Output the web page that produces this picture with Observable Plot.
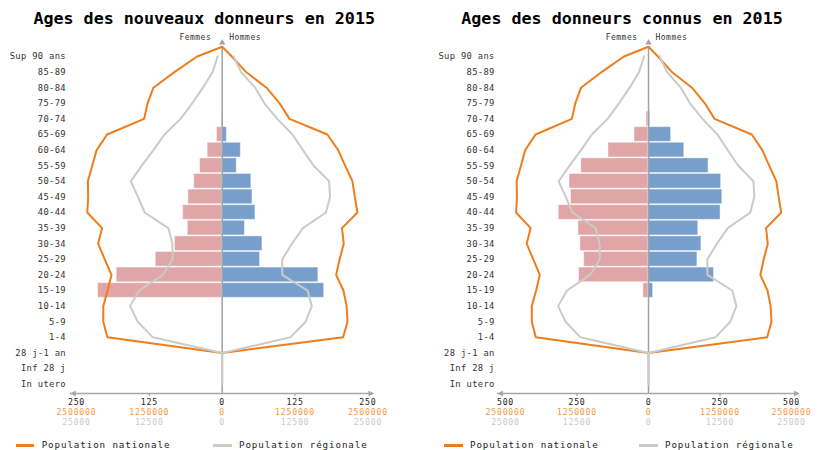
<!DOCTYPE html>
<html><head><meta charset="utf-8">
<script src="https://cdn.jsdelivr.net/npm/d3@7"></script>
<script src="https://cdn.jsdelivr.net/npm/@observablehq/plot@0.6"></script>
<style>
body{margin:0;background:#fff;}
#wrap{position:relative;width:822px;height:450px;overflow:hidden;font-family:"DejaVu Sans Mono",monospace;}
.chart{position:absolute;top:0;width:411px;height:450px;}
.title{position:absolute;top:7.5px;height:20px;line-height:20px;font-weight:bold;font-size:16.7px;white-space:nowrap;text-align:center;color:#000;}
.leg{position:absolute;top:439.5px;line-height:10px;font-size:9.2px;letter-spacing:0.9px;color:#222;white-space:nowrap;}
.sw{position:absolute;height:2.5px;top:444px;}
</style></head>
<body>
<div id="wrap">
  <div class="chart" id="c1" style="left:0"></div>
  <div class="chart" id="c2" style="left:411px"></div>
  <div class="title" style="left:0;width:408.4px">Ages des nouveaux donneurs en 2015</div>
  <div class="title" style="left:411px;width:422px">Ages des donneurs connus en 2015</div>
  <div class="sw" style="left:16px;width:18px;background:#ee7d1c"></div>
  <div class="leg" style="left:41.7px">Population nationale</div>
  <div class="sw" style="left:213px;width:19px;background:#c9ccc7"></div>
  <div class="leg" style="left:239px">Population régionale</div>
  <div class="sw" style="left:444px;width:18.7px;background:#ee7d1c"></div>
  <div class="leg" style="left:470px">Population nationale</div>
  <div class="sw" style="left:639px;width:19px;background:#c9ccc7"></div>
  <div class="leg" style="left:665px">Population régionale</div>
</div>
<script>
const categories = ["In utero","Inf 28 j","28 j-1 an","1-4","5-9","10-14","15-19","20-24","25-29","30-34","35-39","40-44","45-49","50-54","55-59","60-64","65-69","70-74","75-79","80-84","85-89","Sup 90 ans"];
const nationalFemmes = [null,null,0,1970000,2040000,2040000,1965000,1900000,2015000,2130000,2060000,2315000,2300000,2305000,2230000,2155000,1975000,1340000,1280000,1180000,820000,430000];
const nationalHommes = [null,null,0,2075000,2150000,2135000,2080000,1955000,2015000,2085000,2055000,2320000,2275000,2235000,2110000,1990000,1805000,1155000,985000,760000,410000,165000];
const regionalFemmes = [0,0,0,11900,14500,15800,14250,10200,8500,8550,9250,13300,14450,15700,13800,11800,9900,7150,5150,3300,1650,780];
const regionalHommes = [0,0,0,11700,14300,15370,14650,10300,10300,11950,13850,17800,18500,18350,15700,13850,12050,9450,7250,5650,3250,1950];
const nouveauxFemmes = [0,0,0,0,0,0,213,181,114,81,59,67,58,48,38,25,9,1,0,0,0,0];
const nouveauxHommes = [0,0,0,0,0,0,175,165,65,69,39,57,52,50,25,32,8,0,0,0,0,0];
const connusFemmes = [0,0,0,0,0,0,18,243,225,238,245,314,271,276,235,140,49,7,0,0,0,0];
const connusHommes = [0,0,0,0,0,0,16,229,171,185,174,252,258,254,210,125,79,6,0,0,0,0];
const ticksNouveaux = [250,125,0,125,250];
const ticksConnus = [500,250,0,250,500];
const ticksNational = [2500000,1250000,0,1250000,2500000];
const ticksRegional = [25000,12500,0,12500,25000];

const FONT = "DejaVu Sans Mono";
function pyramid(o) {
  const max = o.ticks[0];
  const nf = ticksNational[0] / max;
  const rf = ticksRegional[0] / max;
  const pxPerUnit = (411 - o.marginLeft - o.marginRight) / (2 * max);
  const ext = o.extPx / pxPerUnit;
  const yBottom = -0.6, yTop = 21.62;
  const idx = categories.map((_, i) => i);
  const fem = idx.filter(i => o.femmes[i]).map(i => ({i, v: -o.femmes[i]}));
  const hom = idx.filter(i => o.hommes[i]).map(i => ({i, v: o.hommes[i]}));
  const nat = [{y: yTop, x: 0}];
  [...idx].reverse().forEach(i => { if (nationalFemmes[i] != null) nat.push({y: i, x: -nationalFemmes[i] / nf}); });
  idx.forEach(i => { if (nationalHommes[i] != null) nat.push({y: i, x: nationalHommes[i] / nf}); });
  nat.push({y: yTop, x: 0});
  const reg = [];
  [...idx].reverse().forEach(i => reg.push({z: "F", y: i, x: -regionalFemmes[i] / rf}));
  [...idx].reverse().forEach(i => reg.push({z: "H", y: i, x: regionalHommes[i] / rf}));
  const signed = o.ticks.map((v, i) => i < 2 ? -v : v);
  const tickRow = (labels, dy, fill) => Plot.text(labels, {x: (d, i) => signed[i], text: d => String(d), frameAnchor: "bottom", dy, fill, fontSize: 8.2, fontFamily: FONT});
  const arrowX = max + ext - 3.6 / pxPerUnit;
  const svg = Plot.plot({
    width: 411, height: 450,
    marginLeft: o.marginLeft, marginRight: o.marginRight, marginTop: 46.3, marginBottom: 57,
    x: {domain: [-max, max], axis: null},
    y: {domain: [yBottom, yTop], axis: null},
    style: {fontFamily: FONT, background: "transparent"},
    marks: [
      Plot.rect(fem, {x1: 0, x2: "v", y1: d => d.i - 0.47, y2: d => d.i + 0.47, fill: "#e0a6a7", stroke: "white", strokeOpacity: 0.45, strokeWidth: 1}),
      Plot.rect(hom, {x1: 0, x2: "v", y1: d => d.i - 0.47, y2: d => d.i + 0.47, fill: "#789fcb", stroke: "white", strokeOpacity: 0.45, strokeWidth: 1}),
      Plot.ruleX([0], {y1: yBottom, y2: yTop, stroke: "#9ca3ab", strokeWidth: 1.5}),
      Plot.ruleY([yBottom], {x1: -max - ext, x2: max + ext, stroke: "#a6a6a6", strokeWidth: 1.5}),
      Plot.ruleX([signed[1], signed[3]], {y1: yBottom, y2: yBottom - 0.2, stroke: "#999", strokeWidth: 1}),
      Plot.dot([0], {x: 0, y: yTop, symbol: "triangle", r: 2.3, fill: "#9ca3ab", dy: -4.2}),
      Plot.dot([-1, 1], {x: d => d * arrowX, y: yBottom, symbol: "triangle", rotate: d => d * 90, r: 2.3, fill: "#a6a6a6"}),
      Plot.line(nat, {x: "x", y: "y", stroke: "#ee7d1c", strokeWidth: 2}),
      Plot.line(reg, {x: "x", y: "y", z: "z", stroke: "#c9ccc7", strokeWidth: 2}),
      Plot.text(categories, {y: (d, i) => i, text: d => d, frameAnchor: "left", dx: o.labelDx, textAnchor: "end", fontSize: 8.8, fill: "#333", fontFamily: FONT}),
      Plot.text(["Femmes"], {x: 0, frameAnchor: "top", dy: -12, dx: -11, textAnchor: "end", fontSize: 8, fill: "#333", fontFamily: FONT}),
      Plot.text(["Hommes"], {x: 0, frameAnchor: "top", dy: -12, dx: 7, textAnchor: "start", fontSize: 8, fill: "#333", fontFamily: FONT}),
      tickRow(o.ticks, 11.8, "#222"),
      tickRow(ticksNational, 21.8, "#f29a48"),
      tickRow(ticksRegional, 31.8, "#cacaca")
    ]
  });
  const spacing = [0.33, 0.48, 0.48, 0.78, 0.78, 0.78];
  svg.querySelectorAll('g[aria-label="text"]').forEach((g, k) => { g.style.letterSpacing = spacing[k] + "px"; });
  return svg;
}
document.getElementById("c1").appendChild(pyramid({ticks: ticksNouveaux, femmes: nouveauxFemmes, hommes: nouveauxHommes, marginLeft: 76, marginRight: 43.6, extPx: 6, labelDx: -10.5}));
document.getElementById("c2").appendChild(pyramid({ticks: ticksConnus, femmes: connusFemmes, hommes: connusHommes, marginLeft: 94, marginRight: 31, extPx: 8, labelDx: -10.8}));
</script>
</body></html>
